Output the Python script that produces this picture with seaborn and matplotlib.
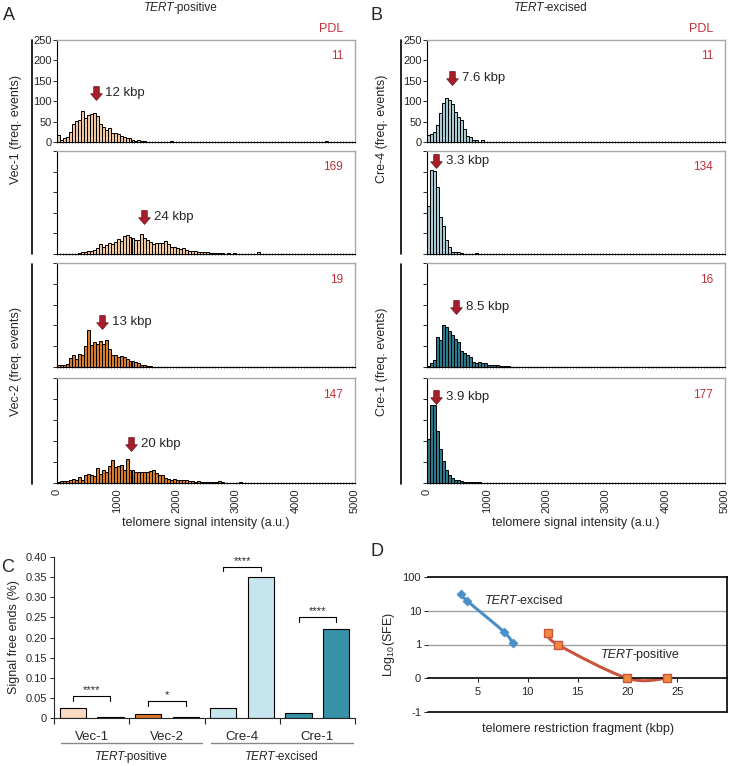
import numpy as np
import pandas as pd
import matplotlib
matplotlib.use('Agg')
import matplotlib.pyplot as plt
from matplotlib.lines import Line2D
from matplotlib.path import Path
from matplotlib.patches import PathPatch
from matplotlib.text import Annotation
import seaborn as sns

sns.set_style('ticks')
plt.rcParams['font.family'] = ['Liberation Sans', 'DejaVu Sans']
plt.rcParams['mathtext.fontset'] = 'custom'
plt.rcParams['mathtext.rm'] = 'Liberation Sans'
plt.rcParams['mathtext.it'] = 'Liberation Sans:italic'

# ---------------- data ----------------
# telomere signal intensity histograms: counts per 50 a.u. bin, 0-5000
bin_edges = list(range(0, 5001, 50))
bin_mids = [b + 25 for b in bin_edges[:-1]]

vec1_pdl11 = [16, 4, 10, 12, 24, 43, 51, 55, 75, 59, 65, 69, 72, 63, 45, 37, 29, 34, 22, 23,
              20, 14, 12, 10, 10, 4, 3, 5, 2, 2, 1, 1, 0, 1, 1, 1, 0, 1, 2, 1,
              0, 1, 0, 0, 1, 0, 0, 1, 0, 0, 0, 1, 0, 0, 0, 0, 1, 0, 0, 0,
              0, 0, 1, 0, 0, 0, 0, 0, 0, 1, 0, 0, 0, 0, 0, 0, 0, 0, 0, 0,
              0, 0, 0, 0, 0, 0, 0, 0, 0, 0, 2, 0, 0, 0, 0, 0, 0, 0, 0, 0]
vec1_pdl169 = [0, 0, 0, 0, 0, 1, 1, 2, 4, 6, 7, 8, 10, 14, 24, 18, 22, 26, 24, 30,
               36, 32, 44, 46, 42, 40, 34, 34, 48, 40, 34, 30, 24, 27, 26, 26, 32, 24, 18, 16,
               15, 13, 14, 10, 7, 7, 7, 6, 6, 5, 4, 3, 3, 2, 2, 2, 1, 2, 1, 3,
               1, 1, 1, 1, 0, 1, 0, 4, 0, 0, 0, 1, 0, 0, 0, 0, 0, 0, 0, 0,
               0, 0, 0, 0, 0, 0, 0, 0, 0, 0, 0, 0, 0, 0, 0, 0, 0, 0, 0, 0]
vec2_pdl19 = [6, 6, 6, 7, 22, 28, 19, 32, 30, 50, 88, 52, 60, 56, 62, 56, 66, 44, 30, 28,
              24, 27, 23, 19, 14, 15, 13, 10, 6, 5, 3, 2, 1, 1, 1, 1, 0, 1, 0, 0,
              1, 0, 0, 1, 0, 0, 0, 0, 1, 0, 0, 0, 0, 0, 0, 1, 0, 0, 0, 0,
              0, 0, 0, 0, 0, 0, 0, 0, 0, 0, 0, 0, 0, 0, 0, 0, 0, 0, 0, 0,
              0, 0, 0, 0, 0, 0, 0, 0, 0, 0, 0, 0, 0, 0, 0, 0, 0, 0, 0, 0]
vec2_pdl147 = [2, 4, 5, 5, 8, 10, 6, 14, 8, 18, 22, 20, 16, 36, 22, 30, 26, 40, 54, 38,
               40, 44, 32, 56, 30, 30, 27, 26, 27, 27, 26, 28, 30, 24, 20, 19, 12, 10, 8, 10,
               8, 6, 6, 8, 5, 4, 3, 4, 3, 3, 2, 3, 2, 2, 4, 2, 1, 1, 1, 1,
               1, 3, 1, 1, 1, 1, 0, 1, 0, 0, 0, 0, 0, 0, 0, 0, 0, 0, 0, 0,
               0, 0, 0, 0, 0, 0, 0, 0, 0, 0, 0, 0, 0, 0, 0, 0, 0, 0, 0, 0]
cre4_pdl11 = [16, 19, 24, 41, 71, 95, 107, 104, 94, 73, 61, 55, 33, 14, 12, 6, 6, 1, 5, 1,
              0, 1, 0, 0, 1, 0, 0, 0, 0, 0, 0, 0, 0, 0, 0, 0, 0, 0, 0, 0,
              0, 0, 0, 0, 0, 0, 0, 0, 0, 0, 0, 0, 0, 0, 0, 0, 0, 0, 0, 0,
              0, 0, 0, 0, 0, 0, 0, 0, 0, 0, 0, 0, 0, 0, 0, 0, 0, 0, 0, 0,
              0, 0, 0, 0, 0, 0, 0, 0, 0, 0, 0, 0, 0, 0, 0, 0, 0, 0, 0, 0]
cre4_pdl134 = [117, 204, 202, 162, 91, 69, 34, 18, 6, 6, 4, 2, 1, 1, 0, 1, 2, 1, 0, 0,
               0, 0, 1, 0, 0, 0, 0, 0, 0, 0, 0, 0, 0, 0, 0, 0, 0, 0, 0, 0,
               0, 0, 0, 0, 0, 0, 0, 0, 0, 0, 0, 0, 0, 0, 0, 0, 0, 0, 0, 0,
               0, 0, 0, 0, 0, 0, 0, 0, 0, 0, 0, 0, 0, 0, 0, 0, 0, 0, 0, 0,
               0, 0, 0, 0, 0, 0, 0, 0, 0, 0, 0, 0, 0, 0, 0, 0, 0, 0, 0, 0]
cre1_pdl16 = [3, 10, 18, 72, 65, 100, 97, 86, 76, 68, 60, 38, 34, 30, 24, 11, 10, 11, 10, 10,
              6, 6, 6, 4, 3, 2, 2, 3, 1, 1, 0, 1, 0, 0, 0, 0, 0, 0, 0, 0,
              0, 0, 0, 0, 0, 0, 0, 0, 0, 0, 0, 0, 0, 0, 0, 0, 0, 0, 0, 0,
              0, 0, 0, 0, 0, 0, 0, 0, 0, 0, 0, 0, 0, 0, 0, 0, 0, 0, 0, 0,
              0, 0, 0, 0, 0, 0, 0, 0, 0, 0, 0, 0, 0, 0, 0, 0, 0, 0, 0, 0]
cre1_pdl177 = [105, 186, 185, 125, 82, 52, 30, 20, 11, 8, 6, 4, 3, 3, 2, 2, 3, 2, 1, 1,
               0, 1, 0, 0, 0, 0, 0, 1, 0, 0, 0, 0, 0, 0, 0, 0, 0, 0, 0, 0,
               0, 0, 0, 0, 0, 0, 0, 0, 0, 0, 0, 0, 0, 0, 0, 0, 0, 0, 0, 0,
               0, 0, 0, 0, 0, 0, 0, 0, 0, 0, 0, 0, 0, 0, 0, 0, 0, 0, 0, 0,
               0, 0, 0, 0, 0, 0, 0, 0, 0, 0, 0, 0, 0, 0, 0, 0, 0, 0, 0, 0]

pdl_a = ['11', '169', '19', '147']
pdl_b = ['11', '134', '16', '177']
# median telomere length markers (x, y in histogram units) and labels
arrow_a_x = [650, 1460, 755, 1240]
arrow_a_y = [120, 90, 108, 93]
arrow_a_lbl = ['12 kbp', '24 kbp', '13 kbp', '20 kbp']
arrow_b_x = [420, 150, 490, 150]
arrow_b_y = [158, 226, 144, 205]
arrow_b_lbl = ['7.6 kbp', '3.3 kbp', '8.5 kbp', '3.9 kbp']

# signal free ends (%)
sfe_lines = ['Vec-1', 'Vec-2', 'Cre-4', 'Cre-1']
sfe_line = ['Vec-1', 'Vec-1', 'Vec-2', 'Vec-2', 'Cre-4', 'Cre-4', 'Cre-1', 'Cre-1']
sfe_pdl = ['early', 'late'] * 4
sfe_values = [0.025, 0.002, 0.010, 0.002, 0.025, 0.350, 0.012, 0.222]
sig_y = [0.054, 0.043, 0.376, 0.250]
sig_txt = ['****', '*', '****', '****']

# Log10(SFE) vs telomere restriction fragment
excised_kbp = [3.3, 3.9, 7.6, 8.5]
excised_logsfe = [1.5, 1.3, 0.38, 0.04]
positive_kbp = [12, 13, 20, 24]
positive_logsfe = [0.35, 0.0, -1.0, -1.0]

# ---------------- style ----------------
hist_colors = ['#EFC8A2', '#D67A2C', '#A9CBD3', '#2B7A8C']
bar_colors = ['#FCDAC2', '#DA7A2E', '#C6E5EC', '#3592A7']
red = '#C0303A'
W, H = 740, 766

fig = plt.figure(figsize=(W / 100, H / 100), dpi=100)
renderer = fig.canvas.get_renderer()


def px_axes(x0, y0, x1, y1):
    return fig.add_axes([x0 / W, 1 - y1 / H, (x1 - x0) / W, (y1 - y0) / H])


def gene_label(x, y, rest, fs, ha='center'):
    """italic 'TERT' followed by upright text, placed in figure pixels"""
    t1 = fig.text(x / W, 1 - y / H, 'TERT', style='italic', fontsize=fs, ha='left', va='center')
    t2 = Annotation(rest, xy=(1, 0), xycoords=t1, xytext=(-0.8, 0), textcoords='offset points',
                    ha='left', va='bottom', fontsize=fs)
    fig.add_artist(t2)
    if ha == 'center':
        w = t1.get_window_extent(renderer).width + t2.get_window_extent(renderer).width
        t1.set_x((x - w / 2) / W)


arrow_marker = Path([(-0.2, 0.5), (0.2, 0.5), (0.2, -0.02), (0.42, -0.02), (0, -0.5),
                     (-0.42, -0.02), (-0.2, -0.02), (-0.2, 0.5)], closed=True)

rows = [(40, 142), (151, 254), (263, 367), (378, 483)]


def hist_panel(ax, counts, color, first, last, pdl, ax_x, ax_y, lbl):
    hist_df = pd.DataFrame({'intensity': bin_mids, 'count': counts})
    sns.histplot(data=hist_df, x='intensity', weights='count', bins=bin_edges, color=color,
                 alpha=1, edgecolor='black', linewidth=0.7, ax=ax)
    ax.set_xlim(0, 5000)
    ax.set_ylim(0, 250)
    ax.set_ylabel('')
    ax.set_xlabel('')
    for sp in ['top', 'right']:
        ax.spines[sp].set_visible(True)
        ax.spines[sp].set_color('#a8a8a8')
        ax.spines[sp].set_linewidth(1.0)
    ax.spines['left'].set_color('black')
    ax.spines['bottom'].set_color('black')
    ax.set_yticks(range(0, 251, 50))
    ax.tick_params(axis='y', length=3, width=0.7, labelsize=8, pad=1, labelleft=first)
    ax.set_xticks(range(0, 5001, 1000))
    ax.set_xticks(bin_edges, minor=True)
    ax.tick_params(axis='x', which='both', direction='inout', length=2, width=0.5,
                   labelbottom=last, labelsize=8, labelrotation=90, pad=3)
    ax.text(0.96, 0.84, pdl, color=red, fontsize=8.5, ha='right', va='center',
            transform=ax.transAxes)
    ax.plot([ax_x], [ax_y], marker=arrow_marker, ms=10, color='#A51E2A', mec='#6A0F18',
            mew=0.5, ls='none')
    ax.annotate(lbl, (ax_x, ax_y), xytext=(7, 0), textcoords='offset points',
                va='center', fontsize=9.5)
    if first:
        ax.text(0.96, 1.11, 'PDL', color=red, fontsize=9, ha='right', va='center',
                transform=ax.transAxes)
    if last:
        ax.set_xlabel('telomere signal intensity (a.u.)', fontsize=9, labelpad=3)


counts_a = [vec1_pdl11, vec1_pdl169, vec2_pdl19, vec2_pdl147]
counts_b = [cre4_pdl11, cre4_pdl134, cre1_pdl16, cre1_pdl177]
for i, (y0, y1) in enumerate(rows):
    ax = px_axes(57, y0, 355, y1)
    hist_panel(ax, counts_a[i], hist_colors[i // 2], i == 0, i == 3, pdl_a[i],
               arrow_a_x[i], arrow_a_y[i], arrow_a_lbl[i])
    ax = px_axes(427, y0, 725, y1)
    hist_panel(ax, counts_b[i], hist_colors[2 + i // 2], i == 0, i == 3, pdl_b[i],
               arrow_b_x[i], arrow_b_y[i], arrow_b_lbl[i])

# group brackets + labels for histograms
for gx, tx, names in [(32, 16, ['Vec-1', 'Vec-2']), (401, 382, ['Cre-4', 'Cre-1'])]:
    for (ya, yb), ty, nm in zip([(40, 254), (264, 484)], [129, 362], names):
        fig.add_artist(Line2D([gx / W, gx / W], [1 - ya / H, 1 - yb / H], color='black', lw=1.2))
        fig.text(tx / W, 1 - ty / H, f'{nm} (freq. events)', rotation=90, ha='center',
                 va='center', fontsize=9)

gene_label(181, 8, '-positive', 8.5)
gene_label(551, 8, '-excised', 8.5)
for letter, lx, ly in [('A', 9, 15), ('B', 377, 15), ('C', 8, 567), ('D', 377, 552)]:
    fig.text(lx / W, 1 - ly / H, letter, ha='center', va='center', fontsize=13)

# ---------------- panel C ----------------
axC = px_axes(54, 557, 355, 718)
sfe_df = pd.DataFrame({'line': sfe_line, 'pdl': sfe_pdl, 'sfe': sfe_values})
sns.barplot(data=sfe_df, x='line', y='sfe', hue='pdl', order=sfe_lines,
            hue_order=['early', 'late'], width=1.0, gap=0.3, errorbar=None,
            edgecolor='black', linewidth=0.8, legend=False, ax=axC)
for cont in axC.containers:
    for bar, col in zip(cont, bar_colors):
        bar.set_facecolor(col)
axC.set_xlim(-0.5, 3.5)
axC.set_ylim(0, 0.40)
sns.despine(ax=axC)
yt = np.round(np.arange(0, 0.401, 0.05), 2)
axC.set_yticks(yt)
axC.set_yticklabels(['0'] + [f'{v:.2f}' for v in yt[1:]])
axC.tick_params(axis='y', length=3, width=0.7, labelsize=8, pad=2)
axC.set_xticks(range(4))
axC.set_xticklabels(sfe_lines)
axC.set_xticks([-0.5, 0.5, 1.5, 2.5, 3.5], minor=True)
axC.tick_params(axis='x', which='major', length=0, labelsize=9.5, pad=9)
axC.tick_params(axis='x', which='minor', length=4, width=0.8)
axC.set_xlabel('')
axC.set_ylabel('Signal free ends (%)', fontsize=9, labelpad=4)
for i, (yb, st) in enumerate(zip(sig_y, sig_txt)):
    axC.plot([i - 0.25, i - 0.25, i + 0.25, i + 0.25], [yb - 0.012, yb, yb, yb - 0.012],
             color='black', lw=0.8, clip_on=False)
    axC.text(i, yb + 0.002, st, ha='center', va='bottom', fontsize=8, clip_on=False)
for (xa, xb), nm in zip([(61, 202), (211, 353)], ['-positive', '-excised']):
    fig.add_artist(Line2D([xa / W, xb / W], [1 - 743 / H] * 2, color='#888888', lw=1))
    gene_label((xa + xb) / 2, 757, nm, 8.5)

# ---------------- panel D ----------------
axD = px_axes(428, 577, 727, 712)


def smooth_path(xs, ys):
    pts = np.column_stack([xs, ys]).astype(float)
    ext = np.vstack([pts[0], pts, pts[-1]])
    verts = [pts[0]]
    codes = [Path.MOVETO]
    for k in range(len(pts) - 1):
        p0, p1, p2, p3 = ext[k], ext[k + 1], ext[k + 2], ext[k + 3]
        verts += [p1 + (p2 - p0) / 6, p2 - (p3 - p1) / 6, p2]
        codes += [Path.CURVE4] * 3
    return Path(verts, codes)


axD.set_xlim(0, 30)
axD.set_ylim(-2, 2)
for gy in [1, 0]:
    axD.axhline(gy, color='#a0a0a0', lw=1, zorder=0)
axD.axhline(-2, color='black', lw=1.2, clip_on=False)
axD.add_patch(PathPatch(smooth_path(excised_kbp, excised_logsfe), facecolor='none',
                        edgecolor='#4A8FC6', lw=2.2, zorder=2))
axD.add_patch(PathPatch(smooth_path(positive_kbp, positive_logsfe), facecolor='none',
                        edgecolor='#C9553F', lw=2.2, zorder=2))
sns.scatterplot(x=excised_kbp, y=excised_logsfe, marker='D', s=22, color='#4A8FC6',
                edgecolor='#4A8FC6', ax=axD, zorder=3)
sns.scatterplot(x=positive_kbp, y=positive_logsfe, marker='s', s=38, color='#EE8A3C',
                edgecolor='#C9553F', linewidth=1, ax=axD, zorder=3)
axD.spines['left'].set_visible(False)
for sp in ['top', 'right']:
    axD.spines[sp].set_visible(True)
    axD.spines[sp].set_color('black')
    axD.spines[sp].set_linewidth(1.2)
axD.spines['bottom'].set_position(('data', -1))
axD.spines['bottom'].set_color('black')
axD.spines['bottom'].set_linewidth(1.2)
axD.set_yticks([2, 1, 0, -1, -2])
axD.set_yticklabels(['100', '10', '1', '0', '-1'])
axD.tick_params(axis='y', length=3, width=0.7, labelsize=8, pad=2)
axD.set_xticks([5, 10, 15, 20, 25])
axD.tick_params(axis='x', length=3, width=0.8, labelsize=8, pad=3)
axD.set_ylabel(r'Log$_{10}$(SFE)', fontsize=9, labelpad=4)
axD.text(0.5, -0.125, 'telomere restriction fragment (kbp)', transform=axD.transAxes,
         ha='center', va='center', fontsize=9)
gene_label(485, 601, '-excised', 9, ha='left')
gene_label(601, 655, '-positive', 9, ha='left')

fig.savefig('out.png', dpi=100)
